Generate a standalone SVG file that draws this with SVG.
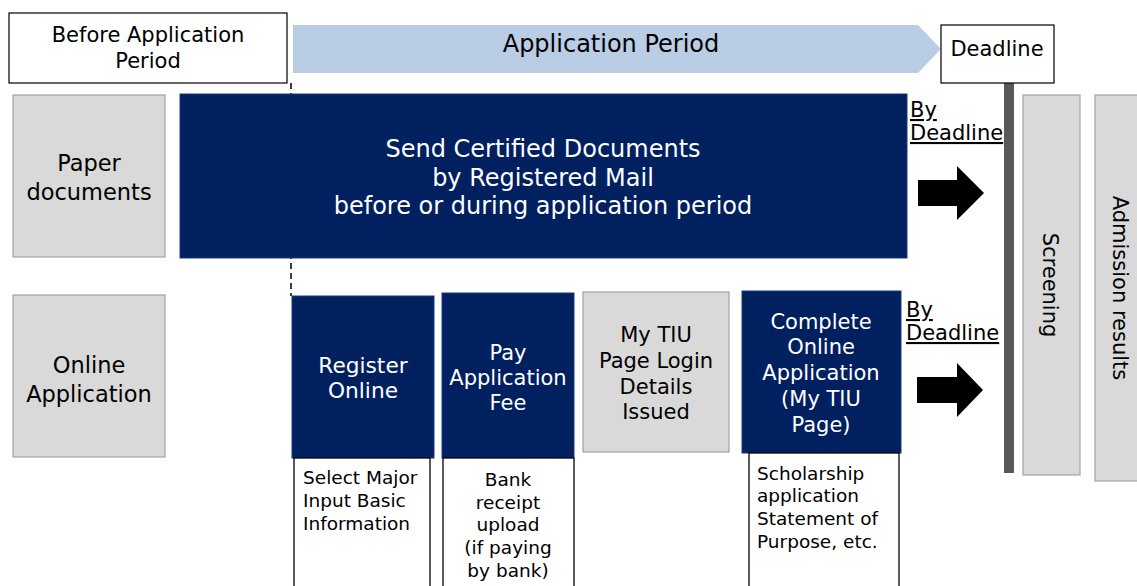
<svg xmlns="http://www.w3.org/2000/svg" width="1137" height="586" viewBox="0 0 1137 586">
<style>
text{font-family:"DejaVu Sans","Liberation Sans",sans-serif;}
.c{text-anchor:middle;}
.w{fill:#ffffff;}
.k{fill:#000000;}
.navy{fill:#002060;stroke:#1f3a78;stroke-width:1;}
.grey{fill:#d9d9d9;stroke:#a3a3a3;stroke-width:1.2;}
.wbox{fill:#ffffff;stroke:#000000;stroke-width:1.3;}
.f24{font-size:24px;}
.f22{font-size:22.5px;}
.f21{font-size:21px;}
.f18{font-size:18.5px;}
.ul{text-decoration:underline;}
</style>
<rect width="1137" height="586" fill="#ffffff"/>
<g id="connectors">
<line x1="291" y1="83" x2="291" y2="296" stroke="#000000" stroke-width="1.5" stroke-dasharray="6,4"/>
<polygon points="918,180 957,180 957,166 984,193 957,220 957,206 918,206" fill="#000000"/>
<polygon points="917,377 957,377 957,363 983,390 957,417 957,403 917,403" fill="#000000"/>
<rect x="1004" y="83" width="10" height="390" fill="#595959"/>
</g>
<g id="before-period">
<rect x="9" y="13" width="278" height="70" fill="#ffffff" stroke="#000000" stroke-width="1.2"/>
<text class="c f21 k" x="148" y="42">Before Application</text>
<text class="c f21 k" x="148" y="68">Period</text>
</g>
<g id="application-period">
<polygon points="293,25 918,25 941,49 918,73 293,73" fill="#b9cde5"/>
<text class="c f24 k" x="611" y="52">Application Period</text>
</g>
<g id="deadline">
<rect x="941" y="25" width="113" height="58" fill="#ffffff" stroke="#000000" stroke-width="1.2"/>
<text class="c f21 k" x="997" y="56">Deadline</text>
</g>
<g id="paper-documents">
<rect class="grey" x="13" y="95" width="152" height="162"/>
<text class="c f22 k" x="89" y="171">Paper</text>
<text class="c f22 k" x="89" y="200">documents</text>
</g>
<g id="online-application">
<rect class="grey" x="13" y="295" width="152" height="162"/>
<text class="c f22 k" x="89" y="373">Online</text>
<text class="c f22 k" x="89" y="402">Application</text>
</g>
<g id="send-certified">
<rect class="navy" x="180" y="94" width="727" height="164"/>
<text class="c f24 w" x="543" y="157">Send Certified Documents</text>
<text class="c f24 w" x="543" y="186">by Registered Mail</text>
<text class="c f24 w" x="543" y="214">before or during application period</text>
</g>
<g id="by-deadline-1">
<text class="f21 k ul" x="910" y="117">By</text>
<text class="f21 k ul" x="910" y="140">Deadline</text>
</g>
<g id="register-online">
<rect class="navy" x="292" y="296" width="142" height="162"/>
<text class="c f21 w" x="363" y="373" style="font-size:21.7px">Register</text>
<text class="c f21 w" x="363" y="398" style="font-size:21.7px">Online</text>
</g>
<g id="register-detail">
<rect class="wbox" x="294" y="458" width="136" height="140"/>
<text class="f18 k" x="303" y="484">Select Major</text>
<text class="f18 k" x="303" y="507">Input Basic</text>
<text class="f18 k" x="303" y="530">Information</text>
</g>
<g id="pay-fee">
<rect class="navy" x="442" y="293" width="132" height="165"/>
<text class="c f21 w" x="508" y="360">Pay</text>
<text class="c f21 w" x="508" y="385">Application</text>
<text class="c f21 w" x="508" y="410">Fee</text>
</g>
<g id="pay-detail">
<rect class="wbox" x="443" y="458" width="131" height="140"/>
<text class="c f18 k" x="508" y="486">Bank</text>
<text class="c f18 k" x="508" y="509">receipt</text>
<text class="c f18 k" x="508" y="531">upload</text>
<text class="c f18 k" x="508" y="554">(if paying</text>
<text class="c f18 k" x="508" y="577">by bank)</text>
</g>
<g id="login-issued">
<rect class="grey" x="583" y="292" width="146" height="160"/>
<text class="c f21 k" x="656" y="342">My TIU</text>
<text class="c f21 k" x="656" y="368">Page Login</text>
<text class="c f21 k" x="656" y="394">Details</text>
<text class="c f21 k" x="656" y="419">Issued</text>
</g>
<g id="complete-online">
<rect class="navy" x="742" y="291" width="159" height="162"/>
<text class="c f21 w" x="821" y="329">Complete</text>
<text class="c f21 w" x="821" y="354">Online</text>
<text class="c f21 w" x="821" y="380">Application</text>
<text class="c f21 w" x="821" y="406">(My TIU</text>
<text class="c f21 w" x="821" y="432">Page)</text>
</g>
<g id="complete-detail">
<rect class="wbox" x="749" y="453" width="150" height="145"/>
<text class="f18 k" x="757" y="480">Scholarship</text>
<text class="f18 k" x="757" y="502">application</text>
<text class="f18 k" x="757" y="525">Statement of</text>
<text class="f18 k" x="757" y="548">Purpose, etc.</text>
</g>
<g id="by-deadline-2">
<text class="f21 k ul" x="906" y="317">By</text>
<text class="f21 k ul" x="906" y="340">Deadline</text>
</g>
<g id="screening">
<rect class="grey" x="1023" y="95" width="57" height="380"/>
<text class="c f21 k" x="0" y="0" dominant-baseline="central" transform="translate(1050,285) rotate(90)">Screening</text>
</g>
<g id="admission-results">
<rect class="grey" x="1095" y="95" width="50" height="386"/>
<text class="c f21 k" x="0" y="0" dominant-baseline="central" transform="translate(1120,288) rotate(90)">Admission results</text>
</g>
</svg>
